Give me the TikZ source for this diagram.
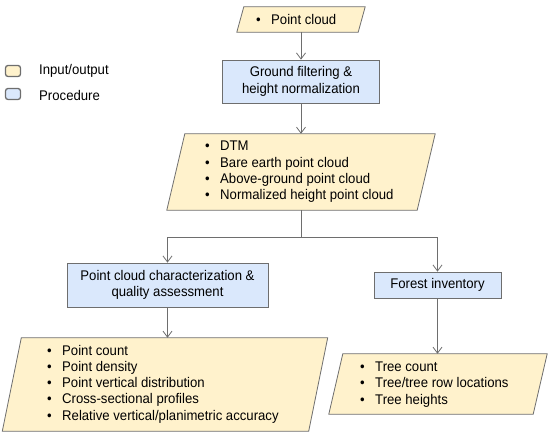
\documentclass[tikz,border=0pt]{standalone}
\usepackage{fontspec}
\setmainfont{Liberation Sans}[FakeStretch=0.94]
\usetikzlibrary{arrows.meta}
\definecolor{ioyel}{HTML}{FFF2CC}
\definecolor{procblue}{HTML}{DAE8FC}
\definecolor{edgegray}{HTML}{6E6E6E}
\newcommand{\blt}{\makebox[15pt][l]{\textbullet}}
\tikzset{
  every node/.style={font=\fontsize{14}{16.3}\selectfont, text=black},
  procbox/.style={draw=edgegray, fill=procblue, line width=0.8pt, inner sep=0pt, align=center},
  ioarea/.style={draw=none, inner sep=0pt},
  iofill/.style={draw=edgegray, fill=ioyel, line width=0.8pt},
  txt/.style={inner sep=0pt, align=left},
  arr/.style={draw=edgegray, line width=0.8pt, -{Straight Barb[length=6pt,width=9pt]}},
  conn/.style={draw=edgegray, line width=0.8pt},
  legbox/.style={draw=edgegray, line width=1.3pt, rounded corners=2.5pt, minimum width=15pt, minimum height=11pt, inner sep=0pt}
}
\begin{document}
\begin{tikzpicture}[x=1pt,y=-1pt]
\useasboundingbox (0,0) rectangle (550,435);

% parallelogram areas (invisible nodes), drawn afterwards
\node[ioarea, minimum width=121pt, minimum height=25pt] (pc) at (301,19.5) {};
\node[ioarea, minimum width=250pt, minimum height=76pt] (dtm) at (301,172) {};
\node[ioarea, minimum width=306pt, minimum height=93pt] (out1) at (165,384.5) {};
\node[ioarea, minimum width=204pt, minimum height=60pt] (out2) at (438,384) {};

\foreach \n/\s in {pc/7, dtm/18, out1/19, out2/14}{
  \path[iofill] ([xshift=\s/2*1pt]\n.north west) -- ([xshift=\s/2*1pt]\n.north east)
     -- ([xshift=-\s/2*1pt]\n.south east) -- ([xshift=-\s/2*1pt]\n.south west) -- cycle;
}

% procedure boxes
\node[procbox, minimum width=157pt, minimum height=43pt] (gf) at (301,81.5) {Ground filtering \&\\height normalization};
\node[procbox, minimum width=201pt, minimum height=44pt] (qa) at (167.5,285) {Point cloud characterization \&\\quality assessment};
\node[procbox, minimum width=127pt, minimum height=26pt] (fi) at (437.5,285) {Forest inventory};

% texts of io shapes
\node[txt, anchor=west] (pct) at (256,19.5) {\blt Point cloud};
\node[txt, anchor=west] (dtmt) at (205,172) {\blt DTM\\\blt Bare earth point cloud\\\blt Above-ground point cloud\\\blt Normalized height point cloud};
\node[txt, anchor=west] (out1t) at (47,384) {\blt Point count\\\blt Point density\\\blt Point vertical distribution\\\blt Cross-sectional profiles\\\blt Relative vertical/planimetric accuracy};
\node[txt, anchor=west] (out2t) at (360,384.5) {\blt Tree count\\\blt Tree/tree row locations\\\blt Tree heights};

% connectors
\draw[arr] (pc.south) -- (gf.north);
\draw[arr] (gf.south) -- (dtm.north);
\coordinate (j) at (301,237);
\draw[conn] (dtm.south) -- (j);
\draw[arr] (j) -| (qa.north);
\draw[arr] (j) -| (fi.north);
\draw[arr] (qa.south) -- (qa.south |- out1.north);
\draw[arr] (fi.south) -- (fi.south |- out2.north);

% legend
\node[legbox, fill=ioyel] (lio) at (13,71) {};
\node[legbox, fill=procblue] (lpr) at (13,94) {};
\node[txt, anchor=west] (lioT) at (39,70.5) {Input/output};
\node[txt, anchor=west] (lprT) at (39,96) {Procedure};
\end{tikzpicture}
\end{document}
